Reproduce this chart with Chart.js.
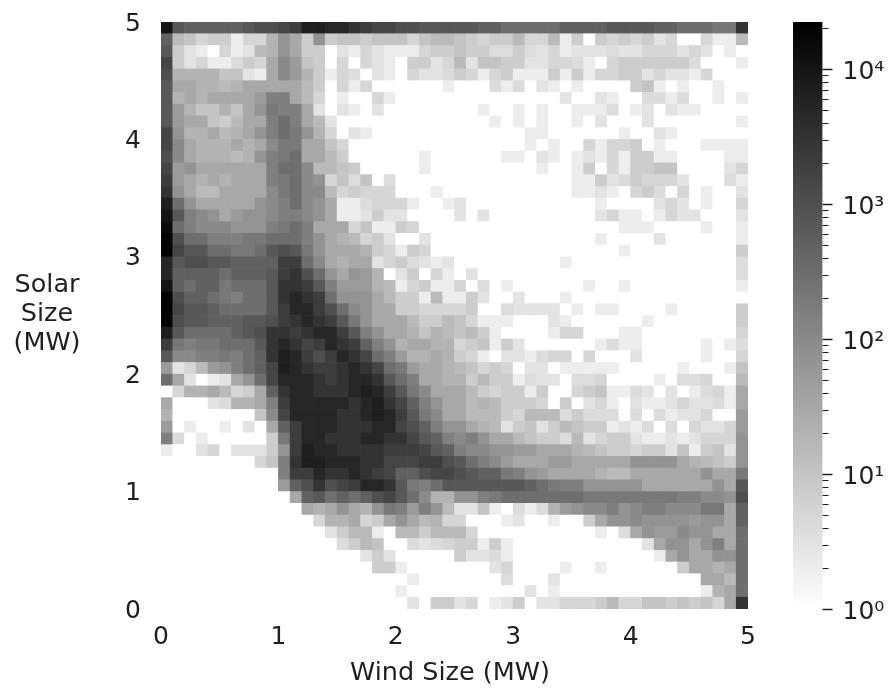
<!DOCTYPE html>
<html>
<head>
<meta charset="utf-8">
<title>Wind and solar size</title>
<script src="https://cdn.jsdelivr.net/npm/chart.js@4/dist/chart.umd.min.js"></script>
<style>
    html, body { margin: 0; padding: 0; background: #fff; }
    #wrap { position: relative; width: 889px; height: 690px; overflow: hidden; }
    canvas { position: absolute; top: 0; }
    #heatmap { left: 0; }
    #colorbar { left: 780px; }
</style>
</head>
<body>
<div id="wrap">
    <canvas id="heatmap" width="780" height="690"></canvas>
    <canvas id="colorbar" width="109" height="690"></canvas>
</div>
<script>
// Centre of each 0.1 MW bin, same on both axes
const binCentres = [
    0.05, 0.15, 0.25, 0.35, 0.45, 0.55, 0.65, 0.75, 0.85, 0.95,
    1.05, 1.15, 1.25, 1.35, 1.45, 1.55, 1.65, 1.75, 1.85, 1.95,
    2.05, 2.15, 2.25, 2.35, 2.45, 2.55, 2.65, 2.75, 2.85, 2.95,
    3.05, 3.15, 3.25, 3.35, 3.45, 3.55, 3.65, 3.75, 3.85, 3.95,
    4.05, 4.15, 4.25, 4.35, 4.45, 4.55, 4.65, 4.75, 4.85, 4.95
];

const countByLetter = {
    '.': 0, a: 2, b: 3, c: 4, d: 5, e: 7, f: 10, g: 15, h: 20, i: 30, j: 50, k: 70, l: 100,
    m: 150, n: 200, o: 300, p: 500, q: 700, r: 1000, s: 1500, t: 2000, u: 3000, v: 5000,
    w: 7000, x: 10000, y: 15000, z: 20000
};

// Rows from solar 5 MW (top) down to solar 0 MW, columns from wind 0 to 5 MW
const countRows = [
    'xqpppppqrrstwwvv' + 'utssrrqqqqqppoooo' + 'oppppqqqqppooonnu',
    'pgfdeeaddhkiekef' + 'fefffdfggfedeegdd' + 'gae.ededebd..daag',
    'qeba.dabghkiee.b' + 'adbaaadeefeeccecb' + 'dabbbcbbdddbdb.a.',
    'sebdaacediljfe.d' + '.dba.eebdgbffeebb' + 'ddca.deeeeeec...a',
    'rhhhhffbailjhead' + 'c.ba.dbbcedadeaaa' + 'eaeaddeebdbbad...',
    'qiihhghiiiiige.d' + 'ad......a...cac.b' + 'a.a....efa.a..a..',
    'qhihiiiijmmigd.a' + '..da.............' + '.b..ba..ccac..a.a',
    'qjhffhfiknmmib.b' + 'a.b........a..a.a' + '..aaac.ab.baa....',
    'qjiifegiimomigb.' + '............a.a.a' + '..a.b...b.......a',
    'skhhighikmonkhd.' + 'ba.............aa' + '......a..ba......',
    'slihhhihilnniifd' + '...............a.' + 'a..dadde.a...aaaa',
    'rlihhhghkmnoiige' + '......a......aa.b' + 'a.abadaeeaa....aa',
    'sjkiiiiiimoolggf' + 'e.....a.........a' + '..ae.daeeff....bd',
    'tjihihiiimnolkdf' + 'cf.c.............' + '..aaebcedddb...ca',
    'ukiggiiiilnollgd' + 'eddd...a.........' + '..aaba.dec.d.a..b',
    'wokiiiiiklmolkia' + 'acddda..ab.......' + '....a....bdb.a..d',
    'xqmlkijkklmmlkia' + 'abebb....b.b.....' + '....bdaa.adbb...b',
    'yomlllkkkmnomiii' + 'dfaaed...........' + '......aaa....a..a',
    'zroommmnnooomkih' + 'gdeb..b..........' + '....a....b......a',
    'zsqqoonnoqrqnkii' + 'ihedaed..........' + '......a.........e',
    'vqrrqqppppttolih' + 'iibdecbab........' + '.a..............c',
    'vppppopppqturoki' + 'kjh.be.da.b......' + '................c',
    'xpoppnoooquutqmj' + 'jjhgadeaad.c.a...' + '...a..a.........a',
    'zrpponmooquvutok' + 'kkigeeagaaeb..b..' + '.a...............',
    'zsqqpooooqtvvtro' + 'lkiieedddde..cbbb' + 'b.a.aa....a.....e',
    'zrqqpppqqrtuvutq' + 'nkiiigeegfdaaa...' + 'ba......a.......e',
    'wqoooopqruutuvvt' + 'qmkiihfhgfgea....' + 'add...aa........d',
    'tnmnnoooquvustvu' + 'tpmkhiihhdefaeb..' + '....acaa.....a.ac',
    'qllmmnmopuwvtrtv' + 'usomjhhiheda.bbac' + 'dd.d...b.....a..d',
    'jbdgjkmopswvuttu' + 'vusonjiihgfded.bb' + '.aaaaa.....a...af',
    'oib.abikosvvvutu' + 'vvuqomiihhegeeacb' + 'b.ccd....a.ccd..g',
    '.dhhigdeipuvvuuu' + 'vwvtqnliiigedeeae' + '..defaacb.b.acdai',
    'i...bchhimtvvvvv' + 'uvwuspmkiighgeeed' + '.e.bda.baabdbbcai',
    'h.......flsvvvvu' + 'uvwvtqnliigggedgg' + 'gceccc.c.cabbd..j',
    'j.a..a.b.iptvvvu' + 'uuvvsrpmkkihgbefb' + 'egfeeabac.c.dbbdj',
    'mc.a.....entvvuu' + 'uvvuusqpmlmkiigfe' + 'ecgbdeebaababdddk',
    'a..bd.bbbektwvvu' + 'uuutttsqpmllkkjji' + 'iihgfeedeebfaefbk',
    '........dfmuwwvv' + 'vuusssttrqomljiii' + 'jjiiiiikkkkihgfek',
    '..........mttvuu' + 'vutspprssrqppnmkj' + 'iiiihggiiiiiikiin',
    '..........jprurs' + 'tvvuqnmoqqqqqqqpo' + 'nmmkkkkkiiiiiikiq',
    '...........ipqop' + 'oprsqolhhkkmnoooo' + 'ooonnnnnnnnmmllkr',
    '............ihik' + 'ihknmjmkgbbfa.cac' + 'hjkllmklmmlllnnip',
    '.............dhh' + 'ideikighdd...ab..' + 'a..eikklkkkkjkkip',
    '..............be' + 'gga.ggegggd......' + '....a.cikjjlkkiio',
    '...............c' + 'egf..cbcdeeaea...' + '........bikkikmio',
    '................' + '.beb.....ebbca...' + '.........aikiikko',
    '................' + '..eea.......bd...' + '.a..a......eiihio',
    '................' + '.....a.......c...' + 'b............iigo',
    '................' + '....a..........b.' + 'a............ahio',
    '................' + '.....b.eebd.abe.b' + 'bdddegddffefefdiu'
];

const axisTicks = [0, 1, 2, 3, 4, 5];
const colorbarDecades = [1, 10, 100, 1000, 10000];
const colorbarMax = 22300;
const windLabel = 'Wind Size (MW)';
const solarLabelLines = ['Solar', 'Size', '(MW)'];

const textColor = '#1f1f1f';
const fontFamily = '"DejaVu Sans", sans-serif';

// gray_r on a log scale, white at 1, black at the top of the bar
function countToGrey(count) {
    if (count <= 1) return 'rgb(255,255,255)';
    const g = Math.round(255 * (1 - Math.log(count) / Math.log(colorbarMax)));
    return 'rgb(' + g + ',' + g + ',' + g + ')';
}

const cells = [];
const cellColors = [];
countRows.forEach((row, r) => {
    const solar = binCentres[binCentres.length - 1 - r];
    binCentres.forEach((wind, c) => {
        cells.push({ x: wind, y: [solar - 0.05, solar + 0.05] });
        cellColors.push(countToGrey(countByLetter[row[c]]));
    });
});

// HEATMAP
// Solar label is horizontal on three lines and the wind label sits left of
// the plot centre, axis titles can't do either
const axisLabelsPlugin = {
    id: 'axisLabels',
    afterDraw(chart) {
        const ctx = chart.ctx;
        ctx.save();
        ctx.fillStyle = textColor;
        ctx.font = '25.5px ' + fontFamily;
        ctx.textAlign = 'center';
        ctx.textBaseline = 'middle';
        solarLabelLines.forEach((line, i) => {
            ctx.fillText(line, 47, 285 + i * 29);
        });
        ctx.fillText(windLabel, 450, 673);
        ctx.restore();
    }
};

new Chart(document.getElementById('heatmap'), {
    type: 'bar',
    data: {
        datasets: [{
            data: cells,
            backgroundColor: cellColors,
            borderWidth: 0,
            barPercentage: 1,
            categoryPercentage: 1
        }]
    },
    plugins: [axisLabelsPlugin],
    options: {
        responsive: false,
        animation: false,
        events: [],
        layout: { padding: { left: 0, top: 22, right: 32, bottom: 0 } },
        plugins: { legend: { display: false }, tooltip: { enabled: false } },
        scales: {
            x: {
                type: 'linear',
                min: 0,
                max: 5,
                offset: false,
                afterFit(scale) { scale.height = 81; },
                afterBuildTicks(scale) { scale.ticks = axisTicks.map(v => ({ value: v })); },
                grid: { display: false, drawTicks: false, offset: false },
                border: { display: false },
                ticks: { color: textColor, font: { size: 25, family: fontFamily }, padding: 13, maxRotation: 0 }
            },
            y: {
                type: 'linear',
                min: 0,
                max: 5,
                afterFit(scale) {
                    scale.width = 161;
                    // tick padding would otherwise push the plot top down
                    scale.paddingTop = 0;
                    scale.paddingBottom = 0;
                },
                afterBuildTicks(scale) { scale.ticks = axisTicks.map(v => ({ value: v })); },
                grid: { display: false, drawTicks: false },
                border: { display: false },
                ticks: { color: textColor, font: { size: 25, family: fontFamily }, padding: 20, labelOffset: 2 }
            }
        }
    }
});

// COLORBAR
const superscripts = { 1: '⁰', 10: '¹', 100: '²', 1000: '³', 10000: '⁴' };

// Chart.js has one tick length per axis, the bar needs long and short ones
const colorbarTicksPlugin = {
    id: 'colorbarTicks',
    afterDraw(chart) {
        const scale = chart.scales.y;
        const ctx = chart.ctx;
        ctx.save();
        ctx.strokeStyle = textColor;
        scale.ticks.forEach(t => {
            const exp = Math.floor(Math.log10(t.value) + 1e-9);
            const mantissa = t.value / Math.pow(10, exp);
            if (Math.abs(mantissa - Math.round(mantissa)) > 1e-6) return;
            const isMajor = colorbarDecades.includes(t.value);
            const y = Math.round(scale.getPixelForValue(t.value)) + 0.5;
            ctx.lineWidth = isMajor ? 1.5 : 1;
            ctx.beginPath();
            ctx.moveTo(scale.left, y);
            ctx.lineTo(scale.left + (isMajor ? 10 : 6), y);
            ctx.stroke();
        });
        ctx.restore();
    }
};

new Chart(document.getElementById('colorbar'), {
    type: 'bar',
    data: {
        labels: ['count'],
        datasets: [{
            data: [[1, colorbarMax]],
            // log scale and linear grey, so a straight gradient is the right ramp
            backgroundColor(c) {
                const area = c.chart.chartArea;
                if (!area) return '#888';
                const grad = c.chart.ctx.createLinearGradient(0, area.top, 0, area.bottom);
                grad.addColorStop(0, '#000');
                grad.addColorStop(1, '#fff');
                return grad;
            },
            borderWidth: 0,
            barPercentage: 1,
            categoryPercentage: 1
        }]
    },
    plugins: [colorbarTicksPlugin],
    options: {
        responsive: false,
        animation: false,
        events: [],
        layout: { padding: { left: 13, top: 22, right: 0, bottom: 81 } },
        plugins: { legend: { display: false }, tooltip: { enabled: false } },
        scales: {
            x: { type: 'category', display: false, offset: true },
            y: {
                type: 'logarithmic',
                position: 'right',
                min: 1,
                max: colorbarMax,
                afterFit(scale) {
                    scale.width = 66.5;
                    scale.paddingTop = 0;
                    scale.paddingBottom = 0;
                },
                grid: { display: false, drawTicks: false },
                border: { display: false },
                ticks: {
                    color: textColor,
                    font: { size: 25, family: fontFamily },
                    padding: 20,
                    labelOffset: 3,
                    autoSkip: false,
                    callback: v => superscripts[v] ? '10' + superscripts[v] : ''
                }
            }
        }
    }
});
</script>
</body>
</html>
